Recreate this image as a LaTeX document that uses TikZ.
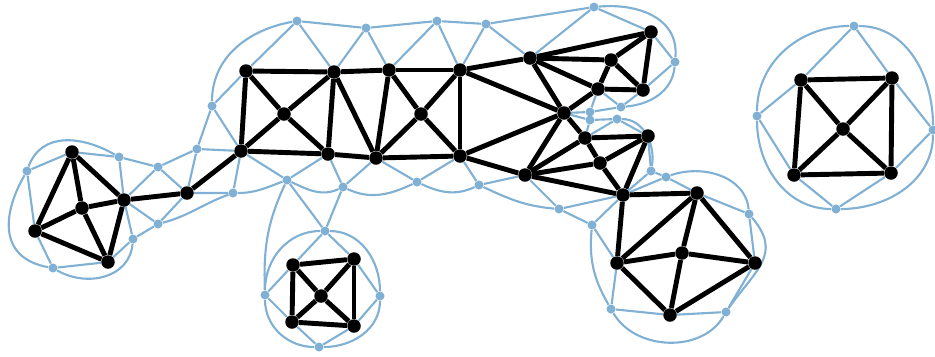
\documentclass[tikz,border=0pt]{standalone}
\usetikzlibrary{backgrounds}
\definecolor{dualblue}{RGB}{128,176,211}
\begin{document}
\begin{tikzpicture}[x=0.02cm,y=-0.02cm,
  vtx/.style={circle,fill=black,inner sep=0pt,minimum size=0.27cm},
  dvtx/.style={circle,fill=dualblue,inner sep=0pt,minimum size=0.18cm},
  edge/.style={black,line width=2.8pt},
  dedge/.style={dualblue,line width=1.2pt}]
 \useasboundingbox (0,0) rectangle (935,356);
 % black vertices
 \node[vtx] (L1) at (72,152) {};
 \node[vtx] (L2) at (35,231) {};
 \node[vtx] (L3) at (108,262) {};
 \node[vtx] (L4) at (82,208) {};
 \node[vtx] (L5) at (124,200) {};
 \node[vtx] (L6) at (187,193) {};
 \node[vtx] (A1) at (246,71) {};
 \node[vtx] (A2) at (334,72) {};
 \node[vtx] (A3) at (389,70) {};
 \node[vtx] (A4) at (460,70) {};
 \node[vtx] (B1) at (241,151) {};
 \node[vtx] (B2) at (328,154) {};
 \node[vtx] (B3) at (376,158) {};
 \node[vtx] (B4) at (460,156) {};
 \node[vtx] (C1) at (284,114) {};
 \node[vtx] (C2) at (421,114) {};
 \node[vtx] (D1) at (530,58) {};
 \node[vtx] (D2) at (651,32) {};
 \node[vtx] (D3) at (611,60) {};
 \node[vtx] (D4) at (598,89) {};
 \node[vtx] (D5) at (643,90) {};
 \node[vtx] (D6) at (564,113) {};
 \node[vtx] (E1) at (525,175) {};
 \node[vtx] (F1) at (585,138) {};
 \node[vtx] (F2) at (648,136) {};
 \node[vtx] (F3) at (600,163) {};
 \node[vtx] (G1) at (623,195) {};
 \node[vtx] (H1) at (697,193) {};
 \node[vtx] (H2) at (617,263) {};
 \node[vtx] (H3) at (682,253) {};
 \node[vtx] (H4) at (755,263) {};
 \node[vtx] (H5) at (670,315) {};
 \node[vtx] (K1) at (293,265) {};
 \node[vtx] (K2) at (354,259) {};
 \node[vtx] (K3) at (292,322) {};
 \node[vtx] (K4) at (354,326) {};
 \node[vtx] (K5) at (321,296) {};
 \node[vtx] (R1) at (801,80) {};
 \node[vtx] (R2) at (892,78) {};
 \node[vtx] (R3) at (794,175) {};
 \node[vtx] (R4) at (891,173) {};
 \node[vtx] (R5) at (843,129) {};
 % dual vertices
 \node[dvtx] (o1) at (212,106) {};
 \node[dvtx] (o2) at (297,21) {};
 \node[dvtx] (o3) at (366,28) {};
 \node[dvtx] (o4) at (437,21) {};
 \node[dvtx] (o5) at (486,24) {};
 \node[dvtx] (o6) at (594,7) {};
 \node[dvtx] (o7) at (675,62) {};
 \node[dvtx] (o8) at (621,107) {};
 \node[dvtx] (o9) at (590,112) {};
 \node[dvtx] (o10) at (590,120) {};
 \node[dvtx] (o11) at (617,119) {};
 \node[dvtx] (o12) at (651,171) {};
 \node[dvtx] (o13) at (666,177) {};
 \node[dvtx] (o14) at (749,214) {};
 \node[dvtx] (o15) at (726,312) {};
 \node[dvtx] (o16) at (611,309) {};
 \node[dvtx] (o17) at (592,225) {};
 \node[dvtx] (o18) at (559,209) {};
 \node[dvtx] (o19) at (479,185) {};
 \node[dvtx] (o20) at (417,182) {};
 \node[dvtx] (o21) at (343,187) {};
 \node[dvtx] (o22) at (287,180) {};
 \node[dvtx] (o23) at (233,193) {};
 \node[dvtx] (o24) at (158,224) {};
 \node[dvtx] (o25) at (133,239) {};
 \node[dvtx] (o26) at (53,268) {};
 \node[dvtx] (o27) at (27,171) {};
 \node[dvtx] (o28) at (119,157) {};
 \node[dvtx] (o29) at (158,167) {};
 \node[dvtx] (o30) at (197,149) {};
 \node[dvtx] (k1) at (325,231) {};
 \node[dvtx] (k2) at (380,296) {};
 \node[dvtx] (k3) at (319,347) {};
 \node[dvtx] (k4) at (265,295) {};
 \node[dvtx] (r1) at (854,26) {};
 \node[dvtx] (r2) at (933,130) {};
 \node[dvtx] (r3) at (836,209) {};
 \node[dvtx] (r4) at (757,116) {};
 \begin{scope}[on background layer]
 % dual edges to the primal vertices
 \foreach \d/\u/\v in {o1/B1/A1, o2/A1/A2, o3/A2/A3, o4/A3/A4, o5/A4/D1,
   o6/D1/D2, o7/D2/D5, o8/D5/D4, o9/D4/D6, o10/D6/F1, o11/F1/F2,
   o12/F2/G1, o13/G1/H1, o14/H1/H4, o15/H4/H5, o16/H5/H2, o17/H2/G1,
   o18/G1/E1, o19/E1/B4, o20/B4/B3, o21/B3/B2, o22/B2/B1, o23/B1/L6,
   o24/L6/L5, o25/L5/L3, o26/L3/L2, o27/L2/L1, o28/L1/L5, o29/L5/L6,
   o30/L6/B1, k1/K1/K2, k2/K2/K4, k3/K4/K3, k4/K3/K1,
   r1/R1/R2, r2/R2/R4, r3/R4/R3, r4/R3/R1}
   \draw[dedge] (\u) -- (\d) -- (\v);
 \draw[dedge] (o22) -- (k1) -- (o21);
 % outer dual cycle
 \draw[dedge] (o1) to[out=90,in=190] (o2) -- (o3) -- (o4) -- (o5) -- (o6)
   to[out=5,in=85,looseness=1.1] (o7) to[out=-95,in=5] (o8) -- (o9) -- (o10) -- (o11)
   to[out=0,in=80] (o12) -- (o13) to[out=20,in=95] (o14)
   to[out=-50,in=55,looseness=1.3] (o15) to[out=-120,in=-60] (o16)
   to[out=120,in=-95] (o17) -- (o18);
 \draw[dedge] (o19) to[out=-25,in=175] (o18);
 \draw[dedge] (o20) to[out=-25,in=-155] (o19);
 \draw[dedge] (o21) to[out=-25,in=-155] (o20);
 \draw[dedge] (o22) to[out=-25,in=-155] (o21);
 \draw[dedge] (o23) to[out=0,in=-160] (o22);
 \draw[dedge] (o24) to[out=15,in=-160] (o23);
 \draw[dedge] (o24) -- (o25) to[out=-95,in=-30,looseness=1.1] (o26)
   to[out=170,in=-120,looseness=1.3] (o27) to[out=70,in=150,looseness=1.1] (o28)
   -- (o29) -- (o30) -- (o1);
 \draw[dedge] (o22) to[out=-115,in=92] (k4);
 \draw[dedge] (k1) to[out=0,in=90] (k2) to[out=-90,in=0] (k3)
   to[out=180,in=-90] (k4) to[out=90,in=180] (k1);
 \draw[dedge] (r1) to[out=0,in=90] (r2) to[out=-90,in=0] (r3)
   to[out=180,in=-90] (r4) to[out=90,in=180] (r1);
 % primal edges
 \foreach \u/\v in {L1/L2, L1/L4, L1/L5, L2/L4, L2/L3, L3/L4, L3/L5, L4/L5,
   L5/L6, L6/B1, A1/A2, A2/A3, A3/A4, B1/B2, B2/B3, B3/B4, A1/B1, A1/C1,
   A2/C1, B1/C1, B2/C1, A2/B2, A2/B3, A3/B3, A3/C2, A4/C2, B3/C2, B4/C2,
   A4/B4, A4/D1, A4/D6, B4/D6, B4/E1, D1/D2, D1/D3, D1/D4, D1/D6, D2/D3,
   D2/D5, D3/D4, D3/D5, D4/D5, D4/D6, D6/E1, D6/F1, F1/F2, F1/F3, F1/E1,
   F2/F3, F3/E1, F3/G1, F2/G1, E1/G1, G1/H1, G1/H2, H1/H2, H1/H3, H1/H4,
   H2/H3, H3/H4, H2/H5, H3/H5, H4/H5, K1/K2, K2/K4, K4/K3, K3/K1, K1/K5,
   K2/K5, K3/K5, K4/K5, R1/R2, R2/R4, R4/R3, R3/R1, R1/R5, R2/R5, R3/R5,
   R4/R5}
   \draw[edge] (\u) -- (\v);
 \end{scope}
\end{tikzpicture}
\end{document}
